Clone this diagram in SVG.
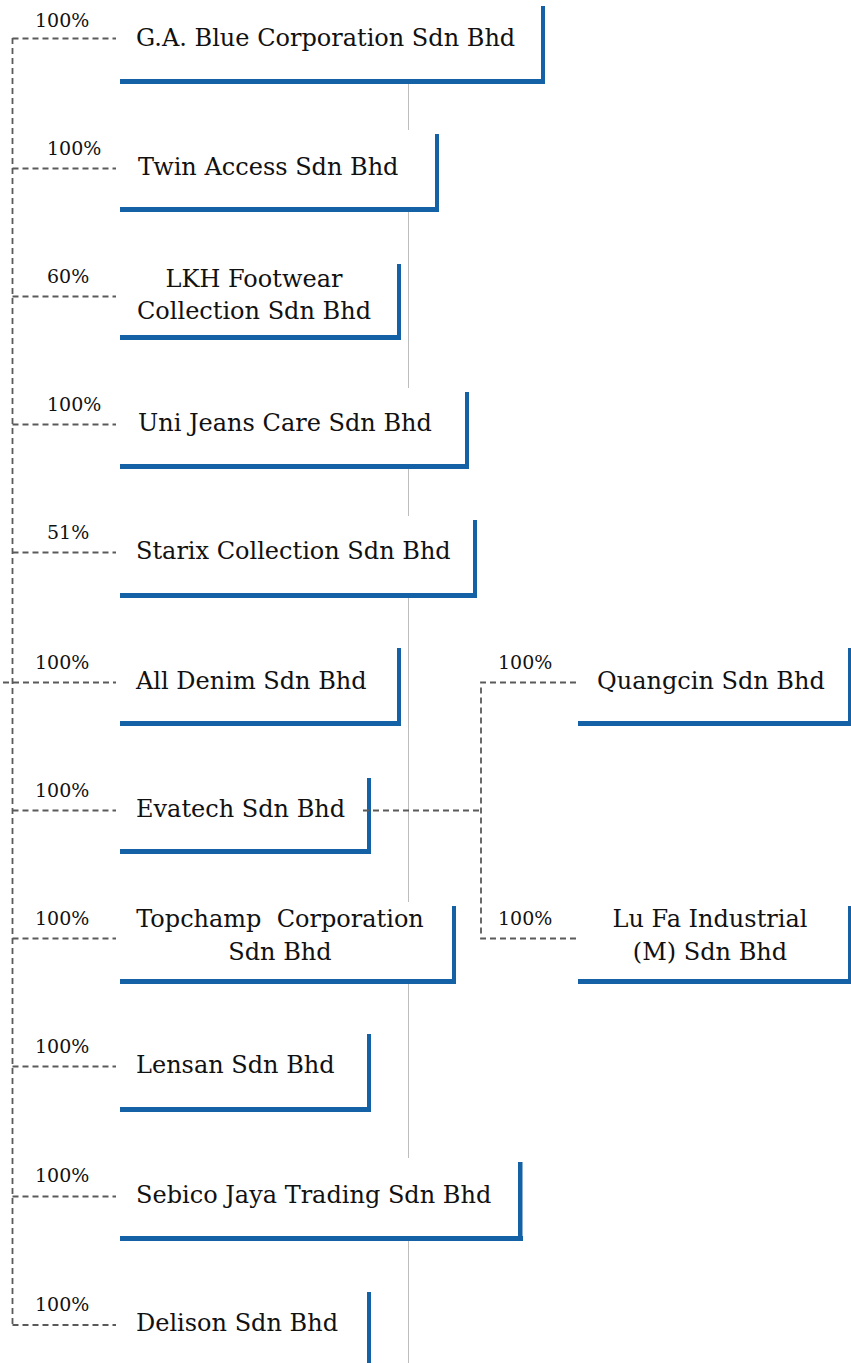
<svg xmlns="http://www.w3.org/2000/svg" width="851" height="1363" viewBox="0 0 851 1363">
<style>
.bg{fill:#ffffff;}
.bar{fill:#1461a5;}
.box{fill:#ffffff;}
.t{font-family:"DejaVu Serif","Liberation Serif",serif;font-size:24px;fill:#111111;}
.tm{font-family:"DejaVu Serif","Liberation Serif",serif;font-size:24px;fill:#111111;text-anchor:middle;}
.p{font-family:"DejaVu Serif","Liberation Serif",serif;font-size:19px;fill:#111111;}
.d{fill:none;stroke:#5a5a5a;stroke-width:1.8;stroke-dasharray:6 4;}
.guide{stroke:#bdbdbd;stroke-width:1;fill:none;}
</style>
<rect class="bg" x="0" y="0" width="851" height="1363"/>
<line class="guide" x1="408.5" y1="84" x2="408.5" y2="1363"/>

<g id="n-gablue">
<rect class="box" x="120" y="2" width="425" height="82"/>
<rect class="bar" x="120" y="79" width="425" height="5"/>
<rect class="bar" x="541" y="6" width="4" height="78"/>
<text class="t" x="136" y="46">G.A. Blue Corporation Sdn Bhd</text>
<text class="p" x="35" y="27">100%</text>
</g>

<g id="n-twin">
<rect class="box" x="120" y="130" width="319" height="82"/>
<rect class="bar" x="120" y="207" width="319" height="5"/>
<rect class="bar" x="435" y="134" width="4" height="78"/>
<text class="t" x="138" y="175">Twin Access Sdn Bhd</text>
<text class="p" x="47" y="155">100%</text>
</g>

<g id="n-lkh">
<rect class="box" x="120" y="260" width="281" height="80"/>
<rect class="bar" x="120" y="335" width="281" height="5"/>
<rect class="bar" x="397" y="264" width="4" height="76"/>
<text class="tm" x="254" y="287">LKH Footwear</text>
<text class="tm" x="254" y="319">Collection Sdn Bhd</text>
<text class="p" x="47" y="283">60%</text>
</g>

<g id="n-unijeans">
<rect class="box" x="120" y="388" width="349" height="81"/>
<rect class="bar" x="120" y="464" width="349" height="5"/>
<rect class="bar" x="465" y="392" width="4" height="77"/>
<text class="t" x="138" y="431">Uni Jeans Care Sdn Bhd</text>
<text class="p" x="47" y="411">100%</text>
</g>

<g id="n-starix">
<rect class="box" x="120" y="516" width="357" height="82"/>
<rect class="bar" x="120" y="593" width="357" height="5"/>
<rect class="bar" x="473" y="520" width="4" height="78"/>
<text class="t" x="136" y="559">Starix Collection Sdn Bhd</text>
<text class="p" x="47" y="539">51%</text>
</g>

<g id="n-alldenim">
<rect class="box" x="120" y="644" width="281" height="82"/>
<rect class="bar" x="120" y="721" width="281" height="5"/>
<rect class="bar" x="397" y="648" width="4" height="78"/>
<text class="t" x="136" y="689">All Denim Sdn Bhd</text>
<text class="p" x="35" y="669">100%</text>
</g>

<g id="n-evatech">
<rect class="box" x="120" y="774" width="251" height="80"/>
<rect class="bar" x="120" y="849" width="251" height="5"/>
<rect class="bar" x="367" y="778" width="4" height="76"/>
<text class="t" x="136" y="817">Evatech Sdn Bhd</text>
<text class="p" x="35" y="797">100%</text>
</g>

<g id="n-topchamp">
<rect class="box" x="120" y="902" width="336" height="82"/>
<rect class="bar" x="120" y="979" width="336" height="5"/>
<rect class="bar" x="452" y="906" width="4" height="78"/>
<text class="tm" x="280" y="927" xml:space="preserve">Topchamp  Corporation</text>
<text class="tm" x="280" y="960">Sdn Bhd</text>
<text class="p" x="35" y="925">100%</text>
</g>

<g id="n-lensan">
<rect class="box" x="120" y="1030" width="251" height="82"/>
<rect class="bar" x="120" y="1107" width="251" height="5"/>
<rect class="bar" x="367" y="1034" width="4" height="78"/>
<text class="t" x="136" y="1073">Lensan Sdn Bhd</text>
<text class="p" x="35" y="1053">100%</text>
</g>

<g id="n-sebico">
<rect class="box" x="120" y="1158" width="403" height="83"/>
<rect class="bar" x="120" y="1236" width="403" height="5"/>
<rect class="bar" x="518" y="1162" width="4.5" height="79"/>
<text class="t" x="136" y="1203">Sebico Jaya Trading Sdn Bhd</text>
<text class="p" x="35" y="1182">100%</text>
</g>

<g id="n-delison">
<rect class="box" x="120" y="1288" width="251" height="75"/>
<rect class="bar" x="367" y="1292" width="4" height="71"/>
<text class="t" x="136" y="1331">Delison Sdn Bhd</text>
<text class="p" x="35" y="1311">100%</text>
</g>

<g id="n-quangcin">
<rect class="box" x="578" y="644" width="273" height="82"/>
<rect class="bar" x="578" y="721" width="273" height="5"/>
<rect class="bar" x="848" y="648" width="4" height="78"/>
<text class="t" x="597" y="689">Quangcin Sdn Bhd</text>
<text class="p" x="498" y="669">100%</text>
</g>

<g id="n-lufa">
<rect class="box" x="578" y="902" width="273" height="82"/>
<rect class="bar" x="578" y="979" width="273" height="5"/>
<rect class="bar" x="848" y="906" width="4" height="78"/>
<text class="tm" x="710" y="927">Lu Fa Industrial</text>
<text class="tm" x="710" y="960">(M) Sdn Bhd</text>
<text class="p" x="498" y="925">100%</text>
</g>

<g id="connectors">
<path class="d" d="M12.5 38 V1325"/>
<path class="d" d="M12.5 38.5 H116"/>
<path class="d" d="M12.5 168.5 H116"/>
<path class="d" d="M12.5 296.5 H116"/>
<path class="d" d="M12.5 424.5 H116"/>
<path class="d" d="M12.5 552.5 H116"/>
<path class="d" d="M3 682.5 H116"/>
<path class="d" d="M12.5 810.5 H116"/>
<path class="d" d="M12.5 938.5 H116"/>
<path class="d" d="M12.5 1066.5 H116"/>
<path class="d" d="M12.5 1196.5 H116"/>
<path class="d" d="M12.5 1325 H116"/>
<path class="d" d="M363 810.5 H481"/>
<path class="d" d="M576 682.5 H481 V938.5 H576"/>
</g>
</svg>
